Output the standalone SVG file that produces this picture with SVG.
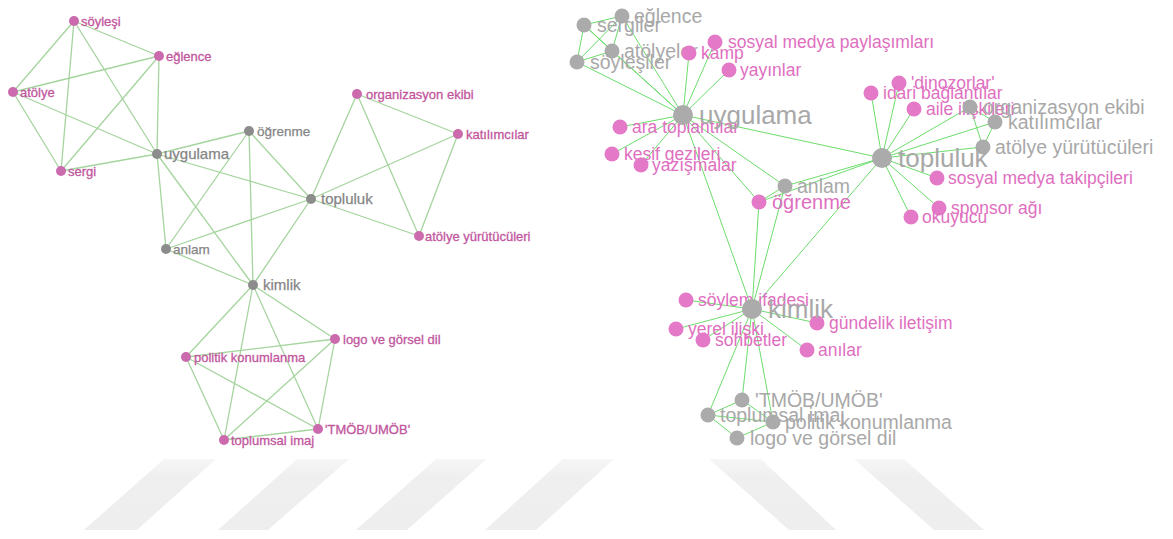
<svg xmlns="http://www.w3.org/2000/svg" width="1173" height="539" viewBox="0 0 1173 539">
<defs>
<linearGradient id="wmg" x1="0" y1="0" x2="0" y2="1">
<stop offset="0" stop-color="#f6f6f6"/>
<stop offset="0.25" stop-color="#efefef"/>
<stop offset="1" stop-color="#eeeeee"/>
</linearGradient>
</defs>
<style>
.bg{fill:#ffffff}
.wm{fill:url(#wmg)}
.le line{stroke:#a5d49e;stroke-width:1.3}
.re line{stroke:#6cdc6c;stroke-width:1}
.lp circle{fill:#cc6aae}
.lg circle{fill:#8c8c8c}
.rp circle{fill:#e47ac7}
.rg circle{fill:#ababab}
text{font-family:"Liberation Sans",Arial,sans-serif}
.lp text{fill:#c2569e;stroke:#c2569e;stroke-width:0.3;font-size:13px}
.lg text{fill:#858585;stroke:#858585;stroke-width:0.25;font-size:13.5px}
.lg.big text{font-size:15px}
.rp text{fill:#e06fc0;font-size:17.5px}
.rg text{fill:#a8a8a8;font-size:19.5px}
.rg.big text{font-size:26px}
</style>
<rect class="bg" x="0" y="0" width="1173" height="539"/>
<g id="watermark">
<polygon class="wm" points="164,459 216,459 137,530 84,530"/>
<polygon class="wm" points="297,459 349,459 268,530 218,530"/>
<polygon class="wm" points="436,459 487,459 407,530 356,530"/>
<polygon class="wm" points="563,459 614,459 536,530 485,530"/>
<polygon class="wm" points="709,459 761,459 836,530 789,530"/>
<polygon class="wm" points="854,459 904,459 984,530 934,530"/>
</g>
<g id="left-connectors" class="le">
<line x1="74" y1="21" x2="159" y2="56"/>
<line x1="74" y1="21" x2="13" y2="92"/>
<line x1="74" y1="21" x2="61" y2="171"/>
<line x1="74" y1="21" x2="157" y2="154"/>
<line x1="159" y1="56" x2="13" y2="92"/>
<line x1="159" y1="56" x2="61" y2="171"/>
<line x1="159" y1="56" x2="157" y2="154"/>
<line x1="13" y1="92" x2="61" y2="171"/>
<line x1="13" y1="92" x2="157" y2="154"/>
<line x1="61" y1="171" x2="157" y2="154"/>
<line x1="311" y1="199" x2="357" y2="94"/>
<line x1="311" y1="199" x2="458" y2="134"/>
<line x1="311" y1="199" x2="419" y2="236"/>
<line x1="357" y1="94" x2="458" y2="134"/>
<line x1="357" y1="94" x2="419" y2="236"/>
<line x1="458" y1="134" x2="419" y2="236"/>
<line x1="253" y1="285" x2="335" y2="339"/>
<line x1="253" y1="285" x2="186" y2="357"/>
<line x1="253" y1="285" x2="318" y2="429"/>
<line x1="253" y1="285" x2="224" y2="440"/>
<line x1="335" y1="339" x2="186" y2="357"/>
<line x1="335" y1="339" x2="318" y2="429"/>
<line x1="335" y1="339" x2="224" y2="440"/>
<line x1="186" y1="357" x2="318" y2="429"/>
<line x1="186" y1="357" x2="224" y2="440"/>
<line x1="318" y1="429" x2="224" y2="440"/>
<line x1="157" y1="154" x2="249" y2="131"/>
<line x1="157" y1="154" x2="311" y2="199"/>
<line x1="157" y1="154" x2="166" y2="249"/>
<line x1="157" y1="154" x2="253" y2="285"/>
<line x1="249" y1="131" x2="166" y2="249"/>
<line x1="249" y1="131" x2="253" y2="285"/>
<line x1="249" y1="131" x2="311" y2="199"/>
<line x1="311" y1="199" x2="166" y2="249"/>
<line x1="311" y1="199" x2="253" y2="285"/>
<line x1="166" y1="249" x2="253" y2="285"/>
</g>
<g id="L-soylesi" class="lp"><circle cx="74" cy="21" r="5"/><text x="81" y="25.5">söyleşi</text></g>
<g id="L-eglence" class="lp"><circle cx="159" cy="56" r="5"/><text x="166" y="60.5">eğlence</text></g>
<g id="L-atolye" class="lp"><circle cx="13" cy="92" r="5"/><text x="20" y="96.5">atölye</text></g>
<g id="L-sergi" class="lp"><circle cx="61" cy="171" r="5"/><text x="68" y="175.5">sergi</text></g>
<g id="L-uygulama" class="lg big"><circle cx="157" cy="154" r="5"/><text x="164" y="159">uygulama</text></g>
<g id="L-ogrenme" class="lg"><circle cx="249" cy="131" r="5"/><text x="257" y="135.5">öğrenme</text></g>
<g id="L-anlam" class="lg"><circle cx="166" cy="249" r="5"/><text x="173" y="253.5">anlam</text></g>
<g id="L-topluluk" class="lg big"><circle cx="311" cy="199" r="5"/><text x="321" y="204">topluluk</text></g>
<g id="L-kimlik" class="lg big"><circle cx="253" cy="285" r="5"/><text x="263" y="290">kimlik</text></g>
<g id="L-organizasyon" class="lp"><circle cx="357" cy="94" r="5"/><text x="366" y="98.5">organizasyon ekibi</text></g>
<g id="L-katilimcilar" class="lp"><circle cx="458" cy="134" r="5"/><text x="466" y="138.5">katılımcılar</text></g>
<g id="L-atolye-yurutuculeri" class="lp"><circle cx="419" cy="236" r="5"/><text x="425" y="240.5">atölye yürütücüleri</text></g>
<g id="L-logo" class="lp"><circle cx="335" cy="339" r="5"/><text x="343" y="343.5">logo ve görsel dil</text></g>
<g id="L-politik" class="lp"><circle cx="186" cy="357" r="5"/><text x="194" y="361.5">politik konumlanma</text></g>
<g id="L-tmob" class="lp"><circle cx="318" cy="429" r="5"/><text x="325" y="433.5">'TMÖB/UMÖB'</text></g>
<g id="L-toplumsal" class="lp"><circle cx="224" cy="440" r="5"/><text x="231" y="444.5">toplumsal imaj</text></g>
<g id="right-connectors" class="re">
<line x1="622" y1="16" x2="584" y2="25"/>
<line x1="622" y1="16" x2="612" y2="51"/>
<line x1="622" y1="16" x2="577" y2="62"/>
<line x1="584" y1="25" x2="612" y2="51"/>
<line x1="584" y1="25" x2="577" y2="62"/>
<line x1="612" y1="51" x2="577" y2="62"/>
<line x1="683" y1="115" x2="622" y2="16"/>
<line x1="683" y1="115" x2="584" y2="25"/>
<line x1="683" y1="115" x2="612" y2="51"/>
<line x1="683" y1="115" x2="577" y2="62"/>
<line x1="683" y1="115" x2="689" y2="53"/>
<line x1="683" y1="115" x2="715" y2="42"/>
<line x1="683" y1="115" x2="729" y2="70"/>
<line x1="683" y1="115" x2="620" y2="127"/>
<line x1="683" y1="115" x2="612" y2="154"/>
<line x1="683" y1="115" x2="641" y2="165"/>
<line x1="683" y1="115" x2="882" y2="158"/>
<line x1="683" y1="115" x2="785" y2="186"/>
<line x1="683" y1="115" x2="759" y2="202"/>
<line x1="683" y1="115" x2="752" y2="309"/>
<line x1="882" y1="158" x2="899" y2="83"/>
<line x1="882" y1="158" x2="871" y2="93"/>
<line x1="882" y1="158" x2="914" y2="109"/>
<line x1="882" y1="158" x2="970" y2="107"/>
<line x1="882" y1="158" x2="995" y2="122"/>
<line x1="882" y1="158" x2="983" y2="147"/>
<line x1="882" y1="158" x2="937" y2="178"/>
<line x1="882" y1="158" x2="939" y2="208"/>
<line x1="882" y1="158" x2="911" y2="217"/>
<line x1="882" y1="158" x2="785" y2="186"/>
<line x1="882" y1="158" x2="759" y2="202"/>
<line x1="882" y1="158" x2="752" y2="309"/>
<line x1="970" y1="107" x2="995" y2="122"/>
<line x1="970" y1="107" x2="983" y2="147"/>
<line x1="995" y1="122" x2="983" y2="147"/>
<line x1="752" y1="309" x2="686" y2="300"/>
<line x1="752" y1="309" x2="817" y2="323"/>
<line x1="752" y1="309" x2="807" y2="350"/>
<line x1="752" y1="309" x2="676" y2="329"/>
<line x1="752" y1="309" x2="703" y2="340"/>
<line x1="752" y1="309" x2="742" y2="400"/>
<line x1="752" y1="309" x2="708" y2="415"/>
<line x1="752" y1="309" x2="773" y2="422"/>
<line x1="752" y1="309" x2="785" y2="186"/>
<line x1="752" y1="309" x2="759" y2="202"/>
<line x1="785" y1="186" x2="759" y2="202"/>
<line x1="708" y1="415" x2="742" y2="400"/>
<line x1="708" y1="415" x2="773" y2="422"/>
<line x1="708" y1="415" x2="737" y2="438"/>
<line x1="737" y1="438" x2="773" y2="422"/>
<line x1="742" y1="400" x2="773" y2="422"/>
</g>
<g id="R-eglence" class="rg"><circle cx="622" cy="16" r="7.5"/><text x="634" y="22.5">eğlence</text></g>
<g id="R-sergiler" class="rg"><circle cx="584" cy="25" r="7.5"/><text x="597" y="31.5">sergiler</text></g>
<g id="R-atolyeler" class="rg"><circle cx="612" cy="51" r="7.5"/><text x="624" y="57.5">atölyeler</text></g>
<g id="R-soylesiler" class="rg"><circle cx="577" cy="62" r="7.5"/><text x="590" y="68.5">söyleşiler</text></g>
<g id="R-kamp" class="rp"><circle cx="689" cy="53" r="7.5"/><text x="701" y="59">kamp</text></g>
<g id="R-sosyal-medya-paylasimlari" class="rp"><circle cx="715" cy="42" r="7.5"/><text x="728" y="48">sosyal medya paylaşımları</text></g>
<g id="R-yayinlar" class="rp"><circle cx="729" cy="70" r="7.5"/><text x="740" y="76">yayınlar</text></g>
<g id="R-ara-toplantilar" class="rp"><circle cx="620" cy="127" r="7.5"/><text x="632" y="133">ara toplantılar</text></g>
<g id="R-kesif-gezileri" class="rp"><circle cx="612" cy="154" r="7.5"/><text x="624" y="160">keşif gezileri</text></g>
<g id="R-yazismalar" class="rp"><circle cx="641" cy="165" r="7.5"/><text x="652" y="171">yazışmalar</text></g>
<g id="R-uygulama" class="rg big"><circle cx="683" cy="115" r="10"/><text x="699" y="124">uygulama</text></g>
<g id="R-dinozorlar" class="rp"><circle cx="899" cy="83" r="7.5"/><text x="911" y="89">'dinozorlar'</text></g>
<g id="R-idari" class="rp"><circle cx="871" cy="93" r="7.5"/><text x="883" y="99">idari bağlantılar</text></g>
<g id="R-aile" class="rp"><circle cx="914" cy="109" r="7.5"/><text x="926" y="115">aile ilişkileri</text></g>
<g id="R-organizasyon" class="rg"><circle cx="970" cy="107" r="7.5"/><text x="983" y="113.5">organizasyon ekibi</text></g>
<g id="R-katilimcilar" class="rg"><circle cx="995" cy="122" r="7.5"/><text x="1008" y="128.5">katılımcılar</text></g>
<g id="R-atolye-yurutuculeri" class="rg"><circle cx="983" cy="147" r="7.5"/><text x="995" y="153.5">atölye yürütücüleri</text></g>
<g id="R-sosyal-medya-takipcileri" class="rp"><circle cx="937" cy="178" r="7.5"/><text x="948" y="184">sosyal medya takipçileri</text></g>
<g id="R-sponsor" class="rp"><circle cx="939" cy="208" r="7.5"/><text x="951" y="214">sponsor ağı</text></g>
<g id="R-okuyucu" class="rp"><circle cx="911" cy="217" r="7.5"/><text x="922" y="223">okuyucu</text></g>
<g id="R-topluluk" class="rg big"><circle cx="882" cy="158" r="10"/><text x="898" y="167">topluluk</text></g>
<g id="R-anlam" class="rg"><circle cx="785" cy="186" r="7.5"/><text x="797" y="192.5">anlam</text></g>
<g id="R-ogrenme" class="rp"><circle cx="759" cy="202" r="7.5"/><text x="772" y="209" style="font-size:20px">öğrenme</text></g>
<g id="R-soylem" class="rp"><circle cx="686" cy="300" r="7.5"/><text x="698" y="306">söylem ifadesi</text></g>
<g id="R-yerel" class="rp"><circle cx="676" cy="329" r="7.5"/><text x="688" y="335">yerel ilişki</text></g>
<g id="R-sohbetler" class="rp"><circle cx="703" cy="340" r="7.5"/><text x="715" y="346">sohbetler</text></g>
<g id="R-gundelik" class="rp"><circle cx="817" cy="323" r="7.5"/><text x="829" y="329">gündelik iletişim</text></g>
<g id="R-anilar" class="rp"><circle cx="807" cy="350" r="7.5"/><text x="818" y="356">anılar</text></g>
<g id="R-kimlik" class="rg big"><circle cx="752" cy="309" r="10"/><text x="768" y="318">kimlik</text></g>
<g id="R-tmob" class="rg"><circle cx="742" cy="400" r="7.5"/><text x="755" y="406.5">'TMÖB/UMÖB'</text></g>
<g id="R-toplumsal" class="rg"><circle cx="708" cy="415" r="7.5"/><text x="720" y="421.5">toplumsal imaj</text></g>
<g id="R-politik" class="rg"><circle cx="773" cy="422" r="7.5"/><text x="785" y="428.5">politik konumlanma</text></g>
<g id="R-logo" class="rg"><circle cx="737" cy="438" r="7.5"/><text x="750" y="444.5">logo ve görsel dil</text></g>
</svg>
